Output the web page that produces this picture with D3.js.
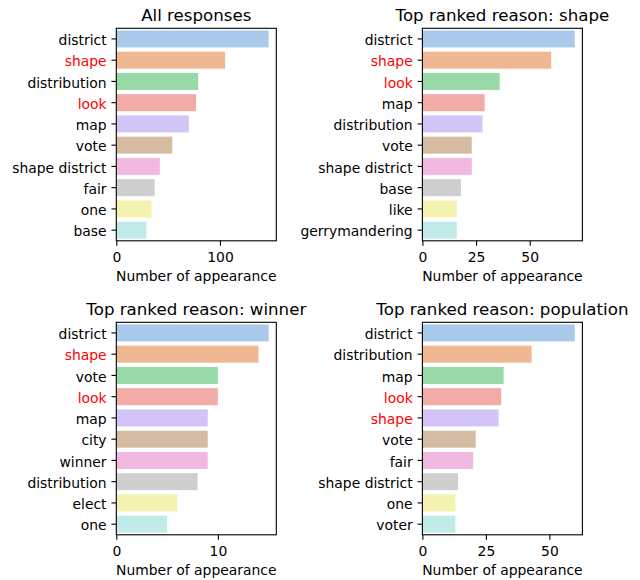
<!DOCTYPE html>
<html>
<head>
<meta charset="utf-8">
<script src="https://cdn.jsdelivr.net/npm/d3@7"></script>
<style>
  html, body { margin: 0; padding: 0; background: #fff; }
  svg { display: block; font-family: "DejaVu Sans", sans-serif; }
</style>
</head>
<body>
<svg id="chart" width="640" height="580"></svg>
<script>
// Word counts per subset of responses
const titles = [
  "All responses",
  "Top ranked reason: shape",
  "Top ranked reason: winner",
  "Top ranked reason: population"
];

const wordsAll = ["district", "shape", "distribution", "look", "map", "vote", "shape district", "fair", "one", "base"];
const countsAll = [147, 105, 79, 77, 70, 54, 42, 37, 34, 29];

const wordsShape = ["district", "shape", "look", "map", "distribution", "vote", "shape district", "base", "like", "gerrymandering"];
const countsShape = [71, 60, 36, 29, 28, 23, 23, 18, 16, 16];

const wordsWinner = ["district", "shape", "vote", "look", "map", "city", "winner", "distribution", "elect", "one"];
const countsWinner = [15, 14, 10, 10, 9, 9, 9, 8, 6, 5];

const wordsPopulation = ["district", "distribution", "map", "look", "shape", "vote", "fair", "shape district", "one", "voter"];
const countsPopulation = [60, 43, 32, 31, 30, 21, 20, 14, 13, 13];

const ticksAll = [0, 100];
const ticksShape = [0, 25, 50];
const ticksWinner = [0, 10];
const ticksPopulation = [0, 25, 50];

// Words highlighted in the tick labels
const highlighted = ["shape", "look"];

// Pastel palette, toned down the way seaborn's barplot does (saturation 0.75)
const pastel = ["#a1c9f4", "#ffb482", "#8de5a1", "#ff9f9b", "#d0bbff",
                "#debb9b", "#fab0e4", "#cfcfcf", "#fffea3", "#b9f2f0"];
const barColors = pastel.map(c => { const h = d3.hsl(c); h.s *= 0.75; return h.formatHex(); });

const panels = [
  { title: titles[0], words: wordsAll, counts: countsAll, ticks: ticksAll, x: 116.3, y: 28.3 },
  { title: titles[1], words: wordsShape, counts: countsShape, ticks: ticksShape, x: 422.4, y: 28.3 },
  { title: titles[2], words: wordsWinner, counts: countsWinner, ticks: ticksWinner, x: 116.3, y: 322.3 },
  { title: titles[3], words: wordsPopulation, counts: countsPopulation, ticks: ticksPopulation, x: 422.4, y: 322.3 }
];

const W = 160, H = 212.5;
const tickLen = 4.86, tickPad = 4.86, lw = 1.1;
const fs = "13.9px", titleFs = "16.67px";
const svg = d3.select("#chart");

panels.forEach(p => {
  const g = svg.append("g").attr("transform", `translate(${p.x},${p.y})`);
  const maxV = d3.max(p.counts);
  const x = d3.scaleLinear().domain([0, maxV * 1.05]).range([0, W]);
  const y = d3.scaleBand().domain(p.words).range([0, H]).paddingInner(0.2).paddingOuter(0.1);

  g.selectAll("rect.bar")
    .data(p.words.map((w, i) => ({ word: w, value: p.counts[i], i })))
    .join("rect")
    .attr("class", "bar")
    .attr("x", x(0))
    .attr("y", d => y(d.word))
    .attr("width", d => x(d.value) - x(0))
    .attr("height", y.bandwidth())
    .attr("fill", d => barColors[d.i % barColors.length]);

  // y axis
  const yAxis = g.append("g")
    .call(d3.axisLeft(y).tickSizeOuter(0).tickSize(tickLen).tickPadding(tickPad));
  yAxis.select(".domain").remove();
  yAxis.selectAll(".tick line").attr("stroke", "#000").attr("stroke-width", lw);
  yAxis.selectAll(".tick text")
    .attr("font-size", fs)
    .attr("font-family", "DejaVu Sans, sans-serif")
    .attr("dy", 6.3)
    .attr("fill", d => highlighted.includes(d) ? "#ff0000" : "#000");

  // x axis
  const xAxis = g.append("g")
    .attr("transform", `translate(0,${H})`)
    .call(d3.axisBottom(x).tickValues(p.ticks).tickFormat(d3.format("d")).tickSizeOuter(0).tickSize(tickLen).tickPadding(tickPad));
  xAxis.select(".domain").remove();
  xAxis.selectAll(".tick line").attr("stroke", "#000").attr("stroke-width", lw);
  xAxis.selectAll(".tick text")
    .attr("font-size", fs)
    .attr("font-family", "DejaVu Sans, sans-serif")
    .attr("y", 21)
    .attr("dy", 0)
    .attr("fill", "#000");

  // frame
  g.append("rect")
    .attr("x", 0).attr("y", 0).attr("width", W).attr("height", H)
    .attr("fill", "none").attr("stroke", "#000").attr("stroke-width", lw);

  // axis label
  g.append("text")
    .attr("x", W / 2).attr("y", H + 40.7)
    .attr("text-anchor", "middle")
    .attr("font-size", fs)
    .attr("fill", "#000")
    .text("Number of appearance");

  // title
  g.append("text")
    .attr("x", W / 2).attr("y", -7.8)
    .attr("text-anchor", "middle")
    .attr("font-size", titleFs)
    .attr("fill", "#000")
    .text(p.title);
});
</script>
</body>
</html>
